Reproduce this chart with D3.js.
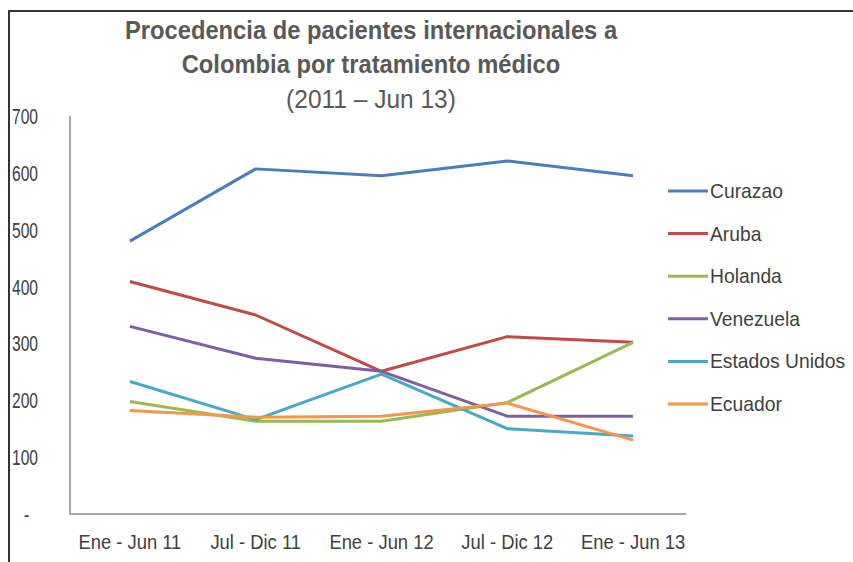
<!DOCTYPE html>
<html lang="es">
<head>
    <meta charset="UTF-8">
    <title>Procedencia de pacientes internacionales</title>
    <script src="https://cdn.jsdelivr.net/npm/d3@7/dist/d3.min.js"></script>
    <style>
        body { margin: 0; background: #fff; }
        text { font-family: "Liberation Sans", Arial, sans-serif; fill: #404040; }
        .title { fill: #595959; font-weight: bold; font-size: 25px; }
        .subtitle { fill: #595959; font-size: 25px; }
        .axis text { font-size: 20px; }
        .yaxis text { font-size: 22px; }
        .legend text { font-size: 20px; }
    </style>
</head>
<body>
    <svg id="chart" width="853" height="562"></svg>
    <script>
        // datos
        const categories = ["Ene - Jun 11", "Jul - Dic 11", "Ene - Jun 12", "Jul - Dic 12", "Ene - Jun 13"]
        const curazao = [480, 607, 595, 621, 595]
        const aruba = [409, 350, 251, 312, 302]
        const holanda = [198, 163, 163, 196, 302]
        const venezuela = [330, 274, 251, 172, 172]
        const estadosUnidos = [233, 166, 246, 150, 137]
        const ecuador = [182, 170, 172, 195, 130]
        const yTicks = [0, 100, 200, 300, 400, 500, 600, 700]

        const series = [
            { name: "Curazao", values: curazao, color: "#4a7ebb" },
            { name: "Aruba", values: aruba, color: "#be4b48" },
            { name: "Holanda", values: holanda, color: "#98b954" },
            { name: "Venezuela", values: venezuela, color: "#7d60a0" },
            { name: "Estados Unidos", values: estadosUnidos, color: "#46aac5" },
            { name: "Ecuador", values: ecuador, color: "#f79646" }
        ]

        const svg = d3.select("#chart")

        // marco
        svg.append("path").attr("d", "M9,562V11H853").attr("fill", "none")
            .attr("stroke", "#333").attr("stroke-width", 2)

        // título
        const titleLines = ["Procedencia de pacientes internacionales a", "Colombia por tratamiento médico"]
        titleLines.forEach((t, i) => {
            svg.append("text").attr("class", "title")
                .attr("transform", `translate(371,${39 + i * 34}) scale(0.95,1)`)
                .attr("text-anchor", "middle").text(t)
        })
        svg.append("text").attr("class", "subtitle")
            .attr("transform", `translate(371,108) scale(0.98,1)`)
            .attr("text-anchor", "middle").text("(2011 – Jun 13)")

        const x = d3.scaleBand().domain(categories).range([67, 696])
        const y = d3.scaleLinear().domain([0, 700]).range([514, 116])

        // ejes
        svg.append("line").attr("x1", 70).attr("x2", 70).attr("y1", y(700)).attr("y2", y(0))
            .attr("stroke", "#a6a6a6").attr("stroke-width", 2)
        svg.append("line").attr("x1", 69).attr("x2", 686).attr("y1", y(0)).attr("y2", y(0))
            .attr("stroke", "#a6a6a6").attr("stroke-width", 2)

        const yAxis = svg.append("g").attr("class", "yaxis")
        yAxis.selectAll("text").data(yTicks).enter().append("text")
            .attr("transform", d => `translate(${d === 0 ? 24 : 12},${y(d) + 8}) scale(0.71,1)`)
            .text(d => d === 0 ? "-" : d)

        const xAxis = svg.append("g").attr("class", "axis")
        xAxis.selectAll("text").data(categories).enter().append("text")
            .attr("text-anchor", "middle")
            .attr("transform", d => `translate(${x(d) + x.bandwidth() / 2},549) scale(0.92,1)`)
            .text(d => d)

        // líneas
        const line = d3.line()
            .x((d, i) => x(categories[i]) + x.bandwidth() / 2)
            .y(d => y(d))
        svg.selectAll(".serie").data(series).enter().append("path")
            .attr("class", "serie")
            .attr("d", d => line(d.values))
            .attr("fill", "none")
            .attr("stroke", d => d.color)
            .attr("stroke-width", 3)
            .attr("stroke-linejoin", "round")

        // leyenda
        const legend = svg.append("g").attr("class", "legend")
        const item = legend.selectAll("g").data(series).enter().append("g")
            .attr("transform", (d, i) => `translate(668,${191 + i * 42.6})`)
        item.append("line").attr("x1", 0).attr("x2", 40)
            .attr("stroke", d => d.color).attr("stroke-width", 3)
        item.append("text").attr("transform", `translate(42,7) scale(0.965,1)`)
            .text(d => d.name)
    </script>
</body>
</html>
